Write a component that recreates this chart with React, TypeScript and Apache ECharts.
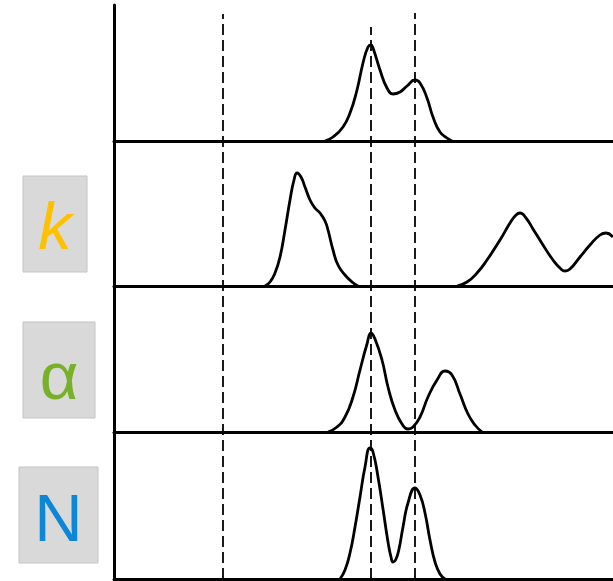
import { useEffect, useRef } from 'react';
import * as echarts from 'echarts';

// x: position along the shared horizontal scale; y: density height within each panel
const densityTop: [number, number][] = [
  [210, 0], [218, 4], [228, 14], [235, 28], [242, 51], [248, 78], [253, 94], [256, 96], [258, 93],
  [265, 71], [272, 53], [278, 47], [285, 49], [292, 55], [300, 61], [305, 58], [312, 43], [318, 24],
  [325, 9], [332, 3], [337, 0],
];
const densityK1: [number, number][] = [
  [150, 0], [155, 4], [160, 13], [165, 29], [170, 56], [175, 86], [179, 106], [182, 113], [186, 109],
  [190, 99], [195, 86], [200, 78], [205, 73], [210, 65], [213, 56], [218, 36], [223, 21], [230, 11],
  [237, 4], [243, 0],
];
const densityK2: [number, number][] = [
  [342, 0], [352, 4], [362, 13], [372, 26], [385, 46], [395, 63], [401, 71], [405, 73], [411, 68], [418, 57],
  [428, 41], [438, 26], [446, 17], [450, 15], [455, 17], [465, 29], [475, 41], [485, 51], [491, 53], [498, 49],
];
const densityAlpha: [number, number][] = [
  [213, 0], [222, 5], [230, 15], [238, 35], [245, 62], [252, 88], [256, 99], [260, 93], [267, 72],
  [273, 45], [280, 22], [287, 8], [293, 3], [298, 5], [305, 15], [313, 35], [322, 52], [330, 61],
  [337, 57], [345, 38], [353, 18], [360, 7], [367, 0],
];
const densityN: [number, number][] = [
  [225, 0], [230, 9], [235, 26], [240, 52], [245, 82], [250, 112], [255, 131], [258, 127], [263, 102],
  [268, 70], [273, 37], [276, 22], [278, 17], [281, 20], [284, 30], [288, 52], [293, 76], [300, 91], [305, 84], [310, 66],
  [315, 39], [320, 17], [325, 5], [330, 0],
];
const refLinesX = [108, 256, 300];
const refLinesHeight = [565, 552, 566];
const paramLabels = ['k', 'α', 'N'];
const paramColors = ['#FFC000', '#78B02A', '#0B87D6'];

export default function App() {
  const ref = useRef<HTMLDivElement>(null);
  useEffect(() => {
    const chart = echarts.init(ref.current!, null, { renderer: 'svg' });
    const panels = [
      { top: 5, height: 136 },
      { top: 141, height: 145 },
      { top: 286, height: 146 },
      { top: 432, height: 147 },
    ];
    const grids: any[] = panels.map((p) => ({ left: 114, width: 499, top: p.top, height: p.height }));
    grids.push({ left: 114, width: 499, top: 0, height: 579 });
    const axisLine = { show: true, onZero: false, lineStyle: { color: '#000', width: 3 } };
    const xAxes = grids.map((_, i) => ({
      type: 'value', gridIndex: i, min: -1, max: 498, show: i < 4,
      axisLine, axisTick: { show: false }, axisLabel: { show: false }, splitLine: { show: false },
    }));
    const yAxes = grids.map((_, i) => ({
      type: 'value', gridIndex: i, min: 0, max: i < 4 ? panels[i].height : 579, show: i < 4,
      axisLine, axisTick: { show: false }, axisLabel: { show: false }, splitLine: { show: false },
    }));
    const curve = (data: [number, number][], idx: number) => ({
      type: 'line', xAxisIndex: idx, yAxisIndex: idx, data, smooth: 0.5, showSymbol: false,
      silent: true, lineStyle: { color: '#000', width: 2.8 }, z: 3,
    });
    const series: any[] = [
      curve(densityTop, 0),
      curve(densityK1, 1),
      curve(densityK2, 1),
      curve(densityAlpha, 2),
      curve(densityN, 3),
    ];
    refLinesX.forEach((x, i) => {
      series.push({
        type: 'line', xAxisIndex: 4, yAxisIndex: 4, data: [[x, 0], [x, refLinesHeight[i]]],
        showSymbol: false, silent: true, z: 4,
        lineStyle: { color: '#000', width: 1.8, type: [11, 5] },
      });
    });
    const boxes = [
      { x: 23, y: 176, w: 64, h: 96, cy: 225 },
      { x: 23, y: 322, w: 72, h: 96, cy: 375 },
      { x: 19, y: 467, w: 79, h: 96, cy: 517 },
    ];
    const graphic: any[] = [];
    boxes.forEach((b, i) => {
      graphic.push({
        type: 'rect', shape: { x: b.x, y: b.y, width: b.w, height: b.h },
        style: { fill: '#d9d9d9', stroke: '#c4c4c4', lineWidth: 1 },
      });
      graphic.push({
        type: 'text', x: b.x + b.w / 2, y: b.cy,
        style: {
          text: paramLabels[i], fill: paramColors[i], font: `${i === 0 ? 'italic ' : ''}67px "Liberation Sans", Arial, sans-serif`,
          align: 'center', verticalAlign: 'middle',
        },
      });
    });
    chart.setOption({
      animation: false,
      backgroundColor: '#fff',
      grid: grids,
      xAxis: xAxes,
      yAxis: yAxes,
      series,
      graphic,
    });
    return () => chart.dispose();
  }, []);
  return <div ref={ref} style={{ position: 'fixed', left: 0, top: 0, width: 613, height: 581 }} />;
}
